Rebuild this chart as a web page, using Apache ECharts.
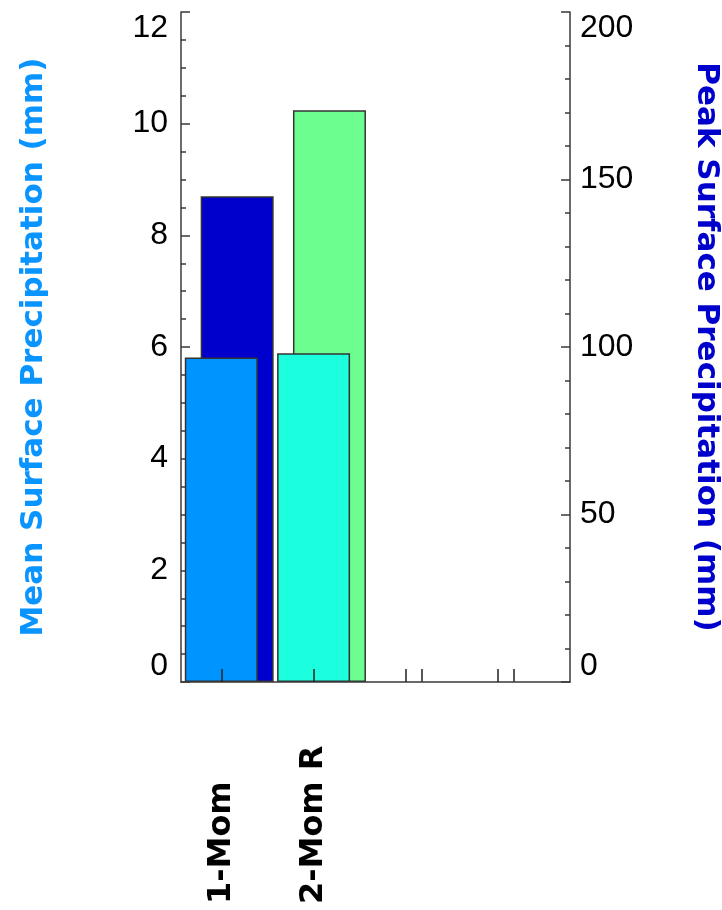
<!DOCTYPE html>
<html>
<head>
<meta charset="utf-8">
<script src="https://cdn.jsdelivr.net/npm/echarts@6/dist/echarts.min.js"></script>
<style>html,body{margin:0;padding:0;background:#fff;}#c{width:722px;height:910px;}</style>
</head>
<body>
<div id="c"></div>
<script>
// ---- data ----
const categories = ['1-Mom', '2-Mom R'];
const meanPrecip = [5.81, 5.89];       // mm, left axis
const peakPrecip = [145.0, 170.7];     // mm, right axis
const tickSlots = [0, 1, 2, 3];        // x tick slots
const meanTickLabels = [0, 2, 4, 6, 8, 10, 12];
const peakTickLabels = [0, 50, 100, 150, 200];
const meanColors = ['#0094FF', '#1CFFDF'];
const peakColors = ['#0000CC', '#6CFF90'];

// ---- chart ----
const chart = echarts.init(document.getElementById('c'), null, {renderer: 'canvas'});
const axisLineStyle = {color: '#3a3a3a', width: 1.5};
const numFont = {color: '#000', fontSize: 32, fontFamily: 'Liberation Sans'};
const titleFont = {fontSize: 31, fontWeight: 'bold', fontFamily: 'DejaVu Sans'};

const xMin = -0.4366, xSpan = 4.215, peakShift = 0.172;

chart.setOption({
  animation: false,
  backgroundColor: '#fff',
  grid: {left: 181, right: 152, top: 12, bottom: 228, containLabel: false, outerBoundsMode: 'none'},
  xAxis: [
    {
      type: 'value', min: xMin, max: xMin + xSpan, z: 5,
      axisLine: {show: true, onZero: false, lineStyle: axisLineStyle},
      axisTick: {show: true, inside: true, length: 13, customValues: tickSlots, lineStyle: {color: '#222', width: 1.5}},
      axisLabel: {
        show: true, customValues: [0, 1], rotate: 90, align: 'left', verticalAlign: 'middle', margin: 222,
        fontSize: 32, fontWeight: 'bold', fontFamily: 'DejaVu Sans', color: '#000',
        formatter: v => categories[Math.round(v)] || ''
      },
      splitLine: {show: false}
    },
    {
      type: 'value', min: xMin - peakShift, max: xMin - peakShift + xSpan, position: 'bottom', z: 0,
      axisLine: {show: false, onZero: false},
      axisTick: {show: true, inside: true, length: 13, customValues: tickSlots, lineStyle: {color: '#222', width: 1.5}},
      axisLabel: {show: false},
      splitLine: {show: false}
    }
  ],
  yAxis: [
    {
      type: 'value', min: 0, max: 12, interval: 2, position: 'left',
      name: 'Mean Surface Precipitation (mm)', nameLocation: 'middle', nameRotate: 90, nameGap: 132,
      nameTextStyle: Object.assign({color: '#0A94FF'}, titleFont),
      axisLine: {show: true, onZero: false, lineStyle: axisLineStyle},
      axisTick: {show: true, inside: true, length: 9, lineStyle: {color: '#3a3a3a', width: 1.5}},
      minorTick: {show: true, splitNumber: 4, length: 5, lineStyle: {color: '#3a3a3a', width: 1.5}},
      axisLabel: Object.assign({margin: 13, verticalAlignMaxLabel: 'top', verticalAlignMinLabel: 'bottom',
        customValues: meanTickLabels}, numFont),
      splitLine: {show: false}
    },
    {
      type: 'value', min: 0, max: 200, interval: 50, position: 'right',
      name: 'Peak Surface Precipitation (mm)', nameLocation: 'middle', nameRotate: -90, nameGap: 121,
      nameTextStyle: Object.assign({color: '#0000CC'}, titleFont),
      axisLine: {show: true, onZero: false, lineStyle: axisLineStyle},
      axisTick: {show: true, inside: true, length: 9, lineStyle: {color: '#3a3a3a', width: 1.5}},
      minorTick: {show: true, splitNumber: 5, length: 5, lineStyle: {color: '#3a3a3a', width: 1.5}},
      axisLabel: Object.assign({margin: 10, verticalAlignMaxLabel: 'top', verticalAlignMinLabel: 'bottom',
        customValues: peakTickLabels}, numFont),
      splitLine: {show: false}
    }
  ],
  series: [
    {
      type: 'bar', name: 'Peak', xAxisIndex: 1, yAxisIndex: 1, barWidth: 73, z: 2,
      data: peakPrecip.map((v, i) => ({value: [i, v], itemStyle: {color: peakColors[i]}})),
      itemStyle: {borderColor: '#333', borderWidth: 1.5}
    },
    {
      type: 'bar', name: 'Mean', xAxisIndex: 0, yAxisIndex: 0, barWidth: 73, z: 3,
      data: meanPrecip.map((v, i) => ({value: [i, v], itemStyle: {color: meanColors[i]}})),
      itemStyle: {borderColor: '#333', borderWidth: 1.5}
    }
  ]
});
</script>
</body>
</html>
